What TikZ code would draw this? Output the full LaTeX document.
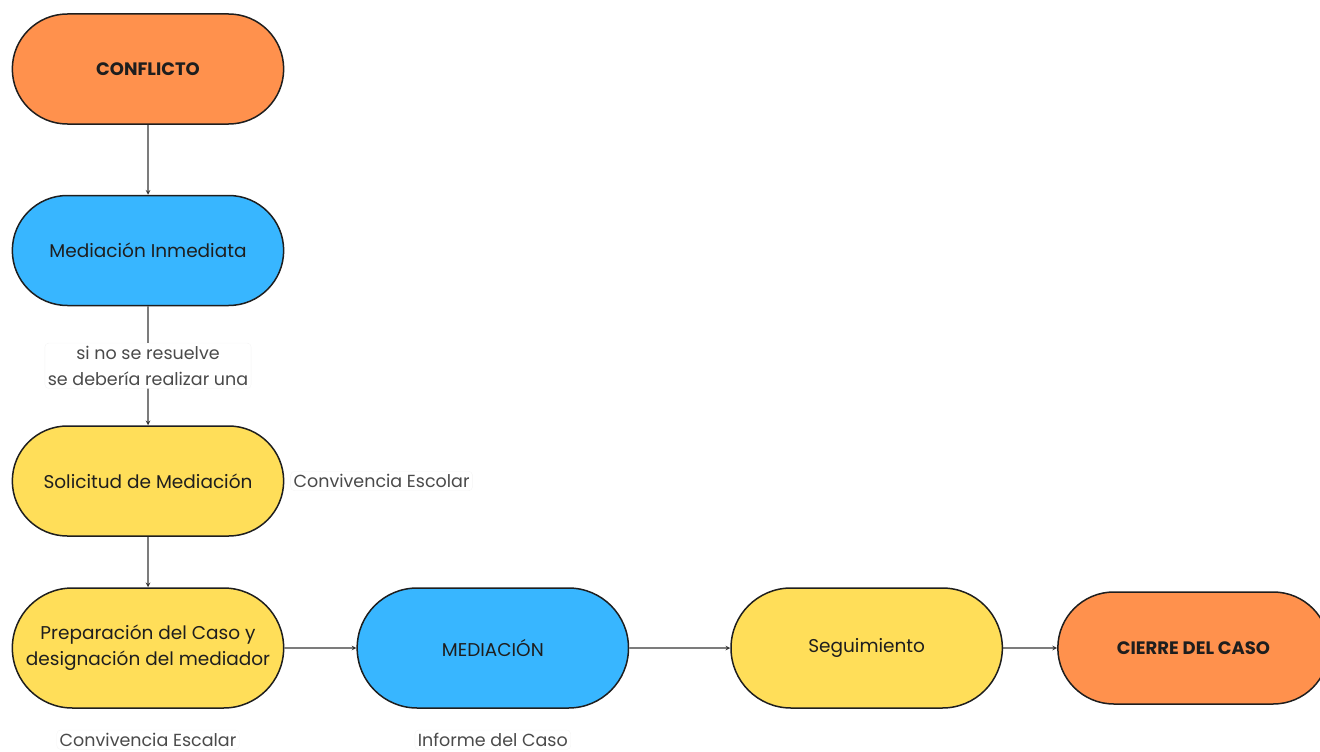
\documentclass[tikz,border=0pt]{standalone}
\usepackage{fontspec}
\setmainfont{Poppins}
\usetikzlibrary{positioning, shapes.misc, arrows, calc}
\definecolor{naranja}{HTML}{FF914D}
\definecolor{celeste}{HTML}{38B6FF}
\definecolor{amarillo}{HTML}{FFDE59}
\definecolor{tinta}{HTML}{1E1E1E}
\definecolor{gristexto}{HTML}{4A4A4A}
\tikzset{
    x=1pt, y=1pt,
    fase/.style={ % Stadium shaped step of the process
        rounded rectangle,
        draw=tinta,
        line width=1.5pt,
        minimum width=278pt,
        minimum height=110pt,
        align=center,
        text=tinta,
        font=\fontsize{18.5}{26}\selectfont
    },
    nota/.style={ % Small white labels
        fill=white,
        draw=gray!8,
        rounded corners=4pt,
        inner sep=3pt,
        align=center,
        text=gristexto,
        font=\fontsize{17.5}{26}\selectfont
    },
    flecha/.style={ % Connectors
        draw=tinta!90,
        ->,>=stealth,
        line width=1.1pt
    },
}

\begin{document}
\begin{tikzpicture}
    \useasboundingbox (0,0) rectangle (1320,-752);

    \node[fase, fill=naranja, font=\fontsize{18}{26}\selectfont\bfseries] (conflicto) at (148,-69) {CONFLICTO};
    \node[fase, fill=celeste,  below=70pt of conflicto]   (inmediata)   {Mediación Inmediata};
    \node[fase, fill=amarillo, below=119pt of inmediata]  (solicitud)   {Solicitud de Mediación};
    \node[fase, fill=amarillo, minimum height=120pt, below=50.5pt of solicitud] (preparacion) {Preparación del Caso y\\designación del mediador};
    \node[fase, fill=celeste,  minimum height=120pt, right=72pt of preparacion] (mediacion) {MEDIACIÓN};
    \node[fase, fill=amarillo, minimum height=120pt, right=101pt of mediacion]  (seguimiento) {Seguimiento};
    \node[fase, fill=naranja,  minimum height=112pt, right=54pt of seguimiento, font=\fontsize{18}{26}\selectfont\bfseries] (cierre) {CIERRE DEL CASO};

    \node[nota] (resuelve) at ($(inmediata)!0.5!(solicitud)$) {si no se resuelve\\se debería realizar una};
    \node[nota, right=6pt of solicitud]     (convivencia) {Convivencia Escolar};
    \node[nota, below=21pt of preparacion]  (escalar)     {Convivencia Escalar};
    \node[nota, below=21pt of mediacion]    (informe)     {Informe del Caso};

    \draw[flecha] (conflicto) -- (inmediata);
    \draw[draw=tinta!90, line width=1.1pt] (inmediata) -- (resuelve);
    \draw[flecha] (resuelve) -- (solicitud);
    \draw[flecha] (solicitud) -- (preparacion);
    \draw[flecha] (preparacion) -- (mediacion);
    \draw[flecha] (mediacion) -- (seguimiento);
    \draw[flecha] (seguimiento) -- (cierre);
\end{tikzpicture}
\end{document}
